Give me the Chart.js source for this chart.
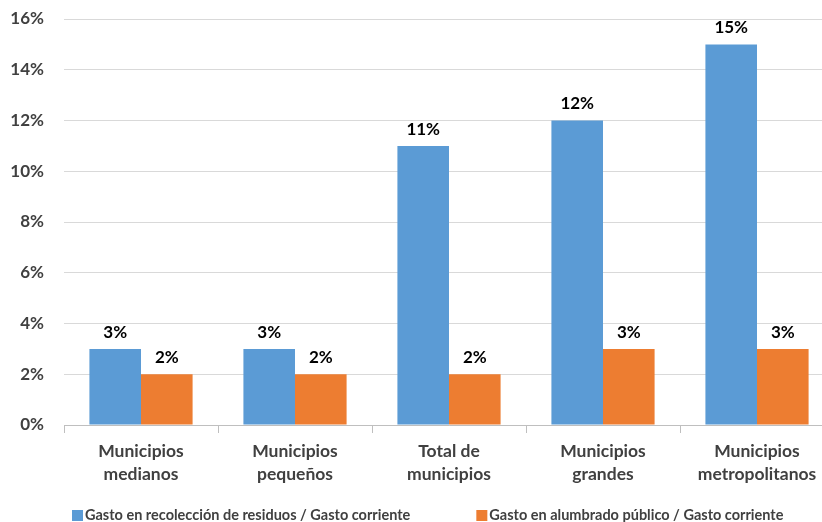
<!DOCTYPE html>
<html>
<head>
<meta charset="utf-8">
<script src="https://cdn.jsdelivr.net/npm/chart.js@4"></script>
<style>
  html, body { margin: 0; padding: 0; overflow: hidden; background: #ffffff; }
  #wrap { position: relative; width: 840px; height: 522px; }
</style>
</head>
<body>
<div id="wrap"><canvas id="c"></canvas></div>
<script>
// Categories (two-line labels)
const categories = [
  ["Municipios", "medianos"],
  ["Municipios", "pequeños"],
  ["Total de", "municipios"],
  ["Municipios", "grandes"],
  ["Municipios", "metropolitanos"]
];
// Share of current spending, in percent
const residuos = [3, 3, 11, 12, 15];
const alumbrado = [2, 2, 2, 3, 3];
const seriesNames = [
  "Gasto en recolección de residuos / Gasto corriente",
  "Gasto en alumbrado público / Gasto corriente"
];
const seriesColors = ["#5B9BD5", "#ED7D31"];
const yMin = 0, yMax = 16, yStep = 2;

const FONT = "Lato, 'Open Sans', sans-serif";

// Value labels above each bar
const valueLabels = {
  id: 'valueLabels',
  afterDatasetsDraw(chart) {
    const ctx = chart.ctx;
    ctx.save();
    ctx.font = "bold 17px " + FONT;
    ctx.fillStyle = "#000000";
    ctx.textAlign = "center";
    ctx.textBaseline = "bottom";
    chart.data.datasets.forEach((ds, di) => {
      chart.getDatasetMeta(di).data.forEach((bar, i) => {
        ctx.fillText(ds.data[i] + "%", bar.x, bar.y - 8);
      });
    });
    ctx.restore();
  }
};

// Legend row under the axis, items spread apart
const bottomLegend = {
  id: 'bottomLegend',
  afterDraw(chart) {
    const ctx = chart.ctx;
    ctx.save();
    ctx.font = "bold 14.5px " + FONT;
    ctx.textBaseline = "middle";
    ctx.textAlign = "left";
    const y = 515;
    let x = chart.chartArea.left + 8;
    chart.data.datasets.forEach((ds, i) => {
      ctx.fillStyle = ds.backgroundColor;
      ctx.fillRect(x, y - 5, 11, 11);
      ctx.fillStyle = "#404040";
      ctx.fillText(ds.label, x + 13, y);
      x += 13 + ctx.measureText(ds.label).width + 66;
    });
    ctx.restore();
  }
};

new Chart(document.getElementById('c'), {
  type: 'bar',
  data: {
    labels: categories,
    datasets: [
      { label: seriesNames[0], data: residuos, backgroundColor: seriesColors[0] },
      { label: seriesNames[1], data: alumbrado, backgroundColor: seriesColors[1] }
    ]
  },
  options: {
    responsive: true,
    maintainAspectRatio: false,
    animation: false,
    layout: { padding: { left: 8, right: 6, top: 0, bottom: 35 } },
    datasets: { bar: { categoryPercentage: 0.67, barPercentage: 1.0 } },
    plugins: {
      tooltip: { enabled: false },
      legend: { display: false }
    },
    scales: {
      x: {
        afterFit: s => { s.height = 62; },
        grid: {
          display: true,
          drawOnChartArea: false,
          drawTicks: true,
          tickLength: 8,
          color: "#bfbfbf",
          offset: true
        },
        border: { display: true, color: "#bfbfbf" },
        ticks: {
          color: "#404040",
          padding: 7,
          maxRotation: 0,
          autoSkip: false,
          font: { family: FONT, size: 17.5, weight: 'bold', lineHeight: 1.3 }
        }
      },
      y: {
        min: yMin,
        max: yMax,
        afterFit: s => { s.width = 56; s.paddingTop = 19; },
        grid: { color: "#d9d9d9", drawTicks: false },
        border: { display: false },
        ticks: {
          stepSize: yStep,
          padding: 20,
          color: "#404040",
          font: { family: FONT, size: 17, weight: 'bold' },
          callback: v => v + "%"
        }
      }
    }
  },
  plugins: [valueLabels, bottomLegend]
});
</script>
</body>
</html>
